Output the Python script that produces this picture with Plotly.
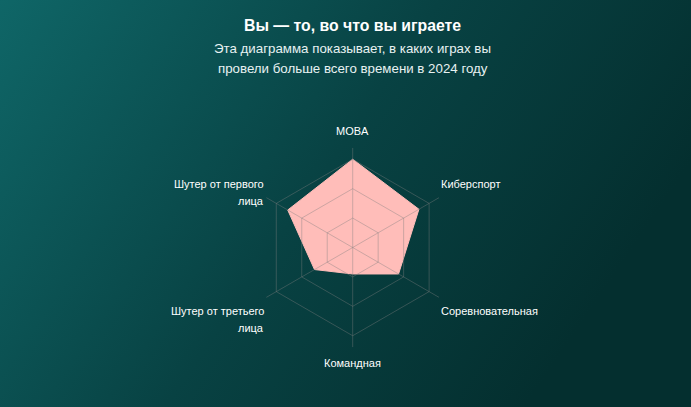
import base64
import math
import plotly.graph_objects as go

# Radar data (grid rings at 1 / 2 / 3)
categories = ['MOBA', 'Киберспорт', 'Соревновательная', 'Командная',
              'Шутер от третьего<br>лица', 'Шутер от первого<br>лица']
values = [3.0, 2.6, 1.8, 0.9, 1.5, 2.55]
ring_values = [1, 2, 3]
axis_max = 3.4

title_text = 'Вы — то, во что вы играете'
subtitle_lines = ['Эта диаграмма показывает, в каких играх вы',
                  'провели больше всего времени в 2024 году']

W, H = 691, 407
# polar geometry in pixels (centre and outer radius)
cx, cy, rad = 352.7, 247.5, 100.0

# background gradient as an svg image
bg_svg = f'''<svg xmlns="http://www.w3.org/2000/svg" width="{W}" height="{H}">
<defs><linearGradient id="g" x1="0" y1="0" x2="1" y2="0.4">
<stop offset="0" stop-color="#0f6667"/>
<stop offset="0.55" stop-color="#084243"/>
<stop offset="1" stop-color="#042f2f"/>
</linearGradient></defs>
<rect width="{W}" height="{H}" fill="url(#g)"/></svg>'''
bg_src = 'data:image/svg+xml;base64,' + base64.b64encode(bg_svg.encode()).decode()

grid_col = 'rgba(128,128,128,0.4)'

fig = go.Figure(go.Scatterpolar(
    r=values + values[:1],
    theta=categories + categories[:1],
    mode='lines',
    fill='toself',
    fillcolor='#ffbdb9',
    line=dict(color='#ffbdb9', width=1),
    hoverinfo='skip',
))

# grid drawn on top of the filled area (plotly puts its own grid underneath)
for rv in ring_values:
    fig.add_trace(go.Scatterpolar(
        r=[rv] * (len(categories) + 1), theta=categories + categories[:1],
        mode='lines', line=dict(color=grid_col, width=1), hoverinfo='skip'))
for cat in categories:
    fig.add_trace(go.Scatterpolar(
        r=[0, axis_max], theta=[cat, cat],
        mode='lines', line=dict(color=grid_col, width=1), hoverinfo='skip'))

# category labels, placed chart.js style just outside the spoke ends
annotations = []
n = len(categories)
for i, cat in enumerate(categories):
    ang = math.radians(90 - 360 * i / n)
    ex = cx + rad * math.cos(ang)
    ey = cy - rad * math.sin(ang)
    c, s = round(math.cos(ang), 3), round(math.sin(ang), 3)
    if abs(c) < 0.01:
        xa, x0 = 'center', ex
        y0 = ey - 17 if s > 0 else ey + 15
    else:
        xa = 'left' if c > 0 else 'right'
        x0 = ex
        y0 = ey - 13.5 if s > 0 else ey + 13
    for k, line in enumerate(cat.split('<br>')):
        annotations.append(dict(
            text=line, x=x0 / W, y=1 - (y0 + 17 * k) / H, xanchor=xa,
            yanchor='middle', font=dict(size=11, color='white')))

annotations += [
    dict(text='<b>' + title_text + '</b>', x=cx / W, y=1 - 25 / H,
         xanchor='center', yanchor='middle',
         font=dict(size=15.8, color='white')),
    dict(text=subtitle_lines[0], x=cx / W, y=1 - 49 / H,
         xanchor='center', yanchor='middle',
         font=dict(size=13.3, color='#e8f2f2')),
    dict(text=subtitle_lines[1], x=cx / W, y=1 - 68.5 / H,
         xanchor='center', yanchor='middle',
         font=dict(size=13.3, color='#e8f2f2')),
]
for a in annotations:
    a.update(xref='paper', yref='paper', showarrow=False)

fig.update_layout(
    width=W,
    height=H,
    margin=dict(l=0, r=0, t=0, b=0),
    paper_bgcolor='#0a4546',
    showlegend=False,
    font=dict(family='Liberation Sans, Arial, sans-serif', color='white'),
    images=[dict(source=bg_src, xref='paper', yref='paper', x=0, y=1,
                 sizex=1, sizey=1, sizing='stretch', layer='below')],
    polar=dict(
        domain=dict(x=[(cx - rad) / W, (cx + rad) / W],
                    y=[1 - (cy + rad) / H, 1 - (cy - rad) / H]),
        bgcolor='rgba(0,0,0,0)',
        gridshape='linear',
        radialaxis=dict(range=[0, axis_max], tickvals=ring_values,
                        showticklabels=False, ticks='', showline=False,
                        showgrid=False),
        angularaxis=dict(rotation=90, direction='clockwise',
                         showline=False, ticks='', showgrid=False,
                         showticklabels=False),
    ),
    annotations=annotations,
)

fig.write_html('out.html', config={'displayModeBar': False},
               post_script="document.body.style.margin='0';")
